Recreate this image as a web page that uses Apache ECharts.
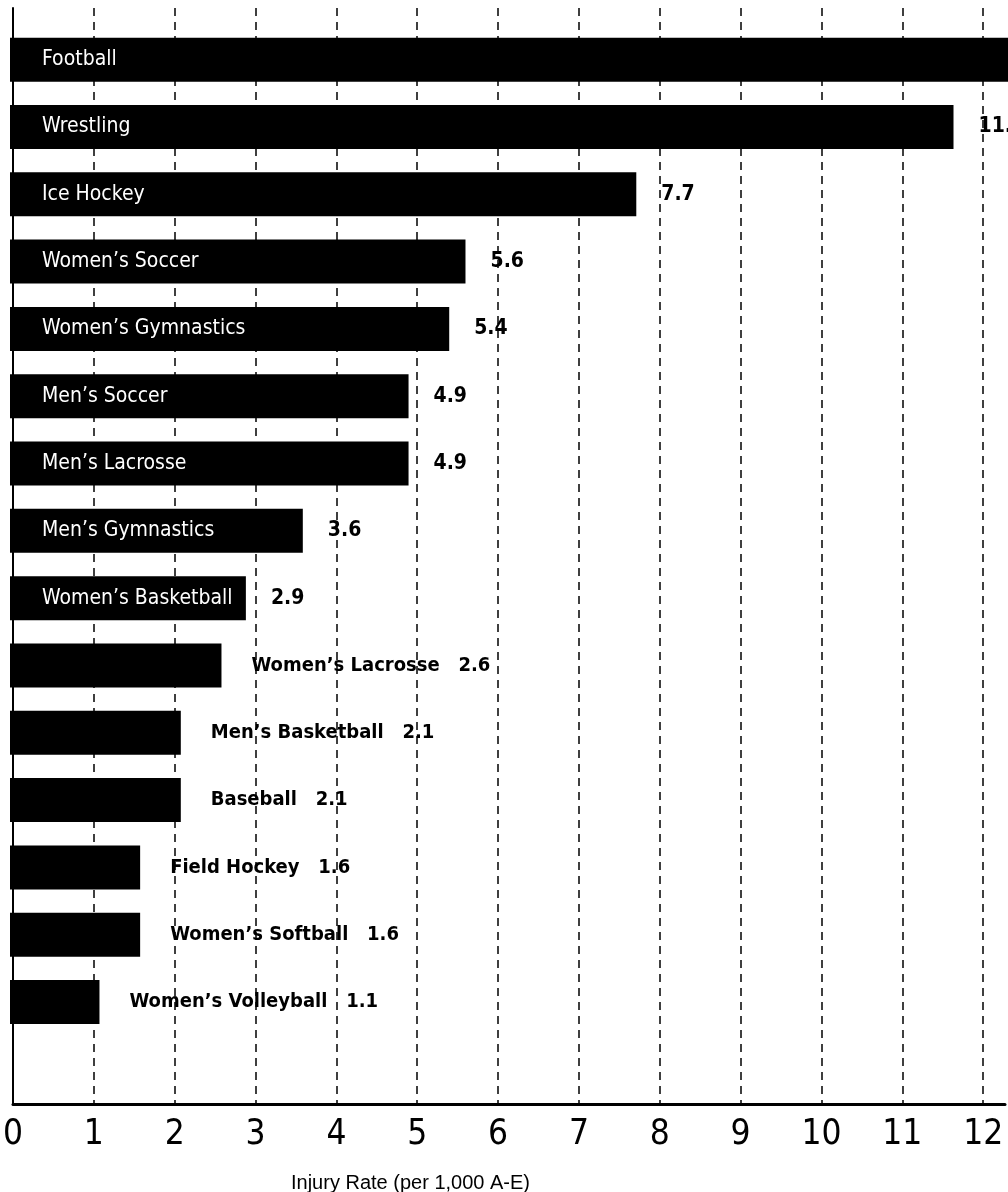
<!DOCTYPE html>
<html><head><meta charset="utf-8">
<script src="https://cdn.jsdelivr.net/npm/echarts@6/dist/echarts.min.js"></script>
<style>html,body{margin:0;padding:0;background:#fff}#c{width:1008px;height:1192px}</style>
</head><body><div id="c"></div>
<script>
const sports = ["Football","Wrestling","Ice Hockey","Women\u2019s Soccer","Women\u2019s Gymnastics","Men\u2019s Soccer","Men\u2019s Lacrosse","Men\u2019s Gymnastics","Women\u2019s Basketball","Women\u2019s Lacrosse","Men\u2019s Basketball","Baseball","Field Hockey","Women\u2019s Softball","Women\u2019s Volleyball"];
const rates = [13.0, 11.6, 7.7, 5.6, 5.4, 4.9, 4.9, 3.6, 2.9, 2.6, 2.1, 2.1, 1.6, 1.6, 1.1];
const valueLabels = ["", "11.6", "7.7", "5.6", "5.4", "4.9", "4.9", "3.6", "2.9", "2.6", "2.1", "2.1", "1.6", "1.6", "1.1"];
const xTicks = [0,1,2,3,4,5,6,7,8,9,10,11,12];
const insideCount = 9; // first nine bars carry their name inside the bar
const axisTitle = "Injury Rate (per 1,000 A-E)";

const XMAX = 12.27;
const COND = "'DejaVu Sans Condensed','Liberation Sans Narrow',sans-serif";

const mainData = rates.map((v, i) => {
  if (i < insideCount) {
    return { value: v, label: { show: true, position: 'insideLeft', distance: 32,
      formatter: sports[i], color: '#fff', fontFamily: COND, fontSize: 21, fontWeight: 'normal' } };
  }
  return { value: v, label: { show: true, position: 'right', distance: 30,
    formatter: sports[i] + '   ' + valueLabels[i], color: '#000', fontFamily: COND, fontSize: 20, fontWeight: 'bold' } };
});
const valData = rates.map((v, i) => ({ value: v, label: { show: i < insideCount && valueLabels[i] !== '',
  position: 'right', distance: 25, formatter: valueLabels[i], color: '#000', fontFamily: COND, fontSize: 21, fontWeight: 'bold' } }));

const chart = echarts.init(document.getElementById('c'), null, { renderer: 'canvas' });
chart.setOption({
  animation: false,
  backgroundColor: '#fff',
  title: { text: axisTitle, left: 286, top: 1168, textStyle: { fontFamily: "'Liberation Sans',Arial,sans-serif", fontSize: 20, fontWeight: 'normal', color: '#000' } },
  grid: [
    { left: 10, right: 0, top: 8, bottom: 88, containLabel: false },
    { left: 10, right: 0, top: 26, bottom: 89, containLabel: false }
  ],
  xAxis: [
    { type: 'value', gridIndex: 0, min: 0, max: XMAX, interval: 1,
      axisLine: { show: true, onZero: false, lineStyle: { color: '#000', width: 3 } },
      axisTick: { show: false },
      axisLabel: { margin: 13, color: '#000', fontFamily: COND, fontSize: 35,
        formatter: v => (xTicks.indexOf(v) >= 0 ? String(v) : '') },
      splitLine: { show: true, showMinLine: false, showMaxLine: false, lineStyle: { color: '#000', width: 1.5, type: [8, 6] } } },
    { type: 'value', gridIndex: 1, min: 0, max: XMAX, show: false, splitLine: { show: false } }
  ],
  yAxis: [
    { type: 'value', gridIndex: 0, min: 0, max: 1, axisLine: { show: true, lineStyle: { color: '#000', width: 2 } },
      axisTick: { show: false }, axisLabel: { show: false }, splitLine: { show: false } },
    { type: 'category', gridIndex: 1, data: sports, inverse: true, max: 15, show: false }
  ],
  series: [
    { type: 'bar', xAxisIndex: 1, yAxisIndex: 1, data: mainData, barWidth: 44, barGap: '-100%',
      itemStyle: { color: '#000' }, clip: true },
    { type: 'bar', xAxisIndex: 1, yAxisIndex: 1, data: valData, barWidth: 44, barGap: '-100%',
      itemStyle: { color: 'rgba(0,0,0,0)' }, clip: true }
  ]
});
</script></body></html>
